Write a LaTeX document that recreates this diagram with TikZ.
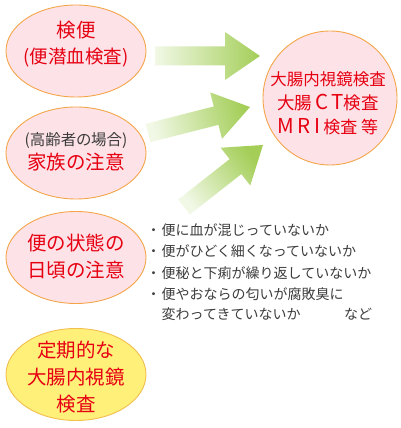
\documentclass[tikz,border=0pt]{standalone}
\usepackage{fontspec}
\newfontfamily\jpfont{Noto Sans CJK JP}
\newfontfamily\jppfont{Noto Sans CJK JP}[RawFeature=+palt]
\usetikzlibrary{calc,shapes.geometric}

\definecolor{ovalpink}{HTML}{FDE3E7}
\definecolor{ovalline}{HTML}{F4A54A}
\definecolor{ovalyel}{HTML}{FFF07A}
\definecolor{yellowline}{HTML}{F2BE4E}
\definecolor{textred}{HTML}{E60012}
\definecolor{notegray}{HTML}{3C3C3C}
\definecolor{arrowgreen}{HTML}{A4CE58}
\definecolor{arrowpale}{HTML}{F1F8E6}

\tikzset{
  oval/.style={ellipse, draw=ovalline, fill=ovalpink, line width=0.9pt, minimum width=140pt, minimum height=92pt, inner sep=0pt},
  yelloval/.style={oval, draw=yellowline, fill=ovalyel},
  redtext/.style={text=textred, align=center, inner sep=0pt, font=\jpfont\fontsize{19.5}{27}\selectfont},
  notetext/.style={anchor=west, inner sep=0pt, text=notegray, font=\jpfont\fontsize{14}{16}\selectfont},
  arrowfade/.style={left color=arrowpale, right color=arrowgreen, shading angle=#1},
}

% fat shaded arrow from #2 (tail) to #3 (tip)
\newcommand{\fatarrow}[3]{%
  \coordinate (hb) at ($(#3)!35pt!(#2)$);
  \shade[arrowfade=#1] ($(#2)!9.5pt!90:(#3)$) -- ($(hb)!9.5pt!90:(#3)$) -- ($(hb)!24pt!90:(#3)$) -- (#3)
    -- ($(hb)!24pt!-90:(#3)$) -- ($(hb)!9.5pt!-90:(#3)$) -- ($(#2)!9.5pt!-90:(#3)$) -- cycle;}
\newcommand{\wideLatin}[1]{{\fontsize{20.5}{24}\selectfont #1}}

\begin{document}
\begin{tikzpicture}[x=1pt, y=1pt]
    \useasboundingbox (0,0) rectangle (400,428);

    % Ovals on the left
    \node[oval] (kenben) at (76,377) {};
    \node[redtext] (kenbentxt) at (76,384) {検便\\[-1pt]{\jppfont\fontsize{18.5}{27}\selectfont (便潜血検査)}};

    \node[oval] (kazoku) at (76,275) {};
    \node[redtext] (kazokutxt) at (76,276.5) {{\color{notegray}\jppfont\fontsize{15.5}{23}\selectfont (高齢者の場合)}\\[-3pt]家族の注意};

    \node[oval] (jotai) at (76,170.5) {};
    \node[redtext] (jotaitxt) at (76,171.5) {便の状態の\\日頃の注意};

    \node[yelloval] (teiki) at (76,53.5) {};
    \node[redtext] (teikitxt) at (76,50.5) {定期的な\\大腸内視鏡\\検査};

    % Examination circle
    \node[circle, draw=ovalline, fill=ovalpink, line width=0.9pt, minimum size=134pt, inner sep=0pt] (exam) at (330,330) {};
    \node[text=textred, align=center, inner sep=0pt, font=\jpfont\fontsize{16.5}{24}\selectfont] (examtxt) at (328,325) {大腸内視鏡検査\\{\fontsize{17.5}{24}\selectfont 大腸\,\wideLatin{C\,T}検査}\\{\fontsize{17}{24}\selectfont\wideLatin{M\,R\,I}\,検査 等}};

    % Arrows
    \coordinate (a1s) at (155,372); \coordinate (a1e) at (260,372);
    \coordinate (a2s) at (148,295); \coordinate (a2e) at (250,321);
    \coordinate (a3s) at (184,221); \coordinate (a3e) at (263,283);
    \fatarrow{90}{a1s}{a1e}
    \fatarrow{104}{a2s}{a2e}
    \fatarrow{128}{a3s}{a3e}

    % Notes
    \foreach \txt [count=\i] in {便に血が混じっていないか, 便がひどく細くなっていないか, 便秘と下痢が繰り返していないか, 便やおならの匂いが腐敗臭に}
        \node[notetext] (note\i) at (146.5,219.5-21.5*\i) {・\hspace{1pt}\txt};
    \node[notetext] (note5) at (161.5,114) {変わってきていないか};
    \node[notetext] (nado) at (344,114) {など};
\end{tikzpicture}
\end{document}
